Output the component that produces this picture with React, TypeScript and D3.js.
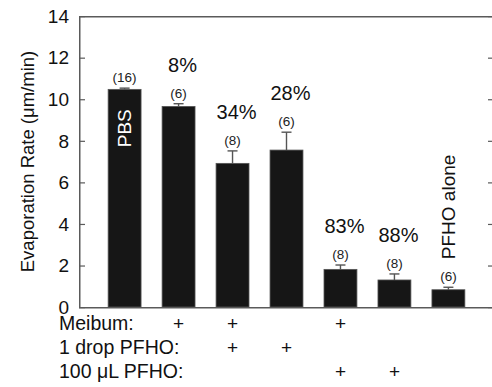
import * as d3 from "d3";

// data
const groups = ["PBS", "Meibum", "Meibum+1drop", "1drop", "Meibum+100uL", "100uL", "PFHO alone"];
const means = [10.47, 9.65, 6.91, 7.55, 1.81, 1.3, 0.83];
const errors = [0.06, 0.13, 0.6, 0.86, 0.21, 0.29, 0.12];
const counts = ["(16)", "(6)", "(8)", "(6)", "(8)", "(8)", "(6)"];
const percents = ["", "8%", "34%", "28%", "83%", "88%", ""];
const yTicks = [0, 2, 4, 6, 8, 10, 12, 14];

const rowLabels = ["Meibum:", "1 drop PFHO:", "100 \u03bcL PFHO:"];
const meibumRow = [false, true, true, false, true, false, false];
const dropRow = [false, false, true, true, false, false, false];
const bigRow = [false, false, false, false, true, true, false];

const FONT = "'Liberation Sans', Arial, sans-serif";

const MARGIN = { LEFT: 79, TOP: 16 };
const WIDTH = 415;
const HEIGHT = 291;
const AXIS = "#5a5a5a";

const App = () => {
  const x = d3.scaleBand().domain(groups).range([0, WIDTH]).paddingInner(0.39).paddingOuter(0.54);
  const y = d3.scaleLinear().domain([0, 14]).range([HEIGHT, 0]);
  const cx = (d: string) => (x(d) as number) + x.bandwidth() / 2;

  return (
    <svg width={492} height={387} style={{ position: "absolute", left: 0, top: 0, background: "#fff" }}>
      <g transform={`translate(${MARGIN.LEFT}, ${MARGIN.TOP})`}>
        {/* frame as filled strips */}
        <rect x={0} y={0} width={1.5} height={HEIGHT + 1} fill={AXIS} />
        <rect x={0} y={0} width={WIDTH} height={1.5} fill={AXIS} />
        <rect x={0} y={HEIGHT} width={WIDTH} height={1.5} fill={AXIS} />
        <rect x={WIDTH - 1.5} y={0} width={1.5} height={HEIGHT + 1} fill={AXIS} />

        {yTicks.map((t) => (
          <g key={t}>
            <rect x={0} y={y(t)} width={6} height={1.2} fill={AXIS} />
            <rect x={WIDTH - 6} y={y(t)} width={6} height={1.2} fill={AXIS} />
            <text
              x={-10}
              y={y(t)}
              dy="0.36em"
              textAnchor="end"
              fontFamily={FONT}
              fontSize="19px"
              fill="#111"
            >
              {t}
            </text>
          </g>
        ))}

        <text
          transform={`translate(-52, ${HEIGHT / 2}) rotate(-90)`}
          textAnchor="middle"
          dy="0.36em"
          fontFamily={FONT}
          fontSize="18.5px"
          fill="#111"
        >
          {"Evaporation Rate (\u03bcm/min)"}
        </text>

        {groups.map((d, i) => {
          const top = y(means[i] + errors[i]);
          return (
            <g key={d}>
              <rect x={cx(d) - 0.7} y={top} width={1.4} height={y(means[i]) - top} fill="#555" />
              <rect x={cx(d) - 5} y={top - 0.7} width={10} height={1.4} fill="#555" />
              <rect
                x={x(d)}
                y={y(means[i])}
                width={x.bandwidth()}
                height={HEIGHT - y(means[i])}
                fill="#161616"
                stroke="#555"
                strokeWidth={0.8}
              />
              <text x={cx(d)} y={top - 6} textAnchor="middle" fontFamily={FONT} fontSize="13.5px" fill="#222">
                {counts[i]}
              </text>
              {percents[i] && (
                <text x={cx(d) + 4} y={top - 32} textAnchor="middle" fontFamily={FONT} fontSize="20px" fill="#111">
                  {percents[i]}
                </text>
              )}
            </g>
          );
        })}

        <text
          transform={`translate(${cx(groups[0])}, ${y(8.6)}) rotate(-90)`}
          textAnchor="middle"
          dy="0.36em"
          fontFamily={FONT}
          fontSize="19px"
          fill="#fff"
        >
          PBS
        </text>
        <text
          transform={`translate(${cx(groups[6])}, ${y(2.3)}) rotate(-90)`}
          dy="0.36em"
          fontFamily={FONT}
          fontSize="19px"
          fill="#111"
        >
          PFHO alone
        </text>

        {[meibumRow, dropRow, bigRow].map((row, r) => {
          const ry = HEIGHT + 23 + r * 24;
          return (
            <g key={r}>
              <text x={-20} y={ry} fontFamily={FONT} fontSize="19.5px" fill="#111">
                {rowLabels[r]}
              </text>
              {groups.map((d, i) =>
                row[i] ? (
                  <text key={d} x={cx(d)} y={ry} textAnchor="middle" fontFamily={FONT} fontSize="19px" fill="#111">
                    +
                  </text>
                ) : null
              )}
            </g>
          );
        })}
      </g>
    </svg>
  );
};

export default App;
